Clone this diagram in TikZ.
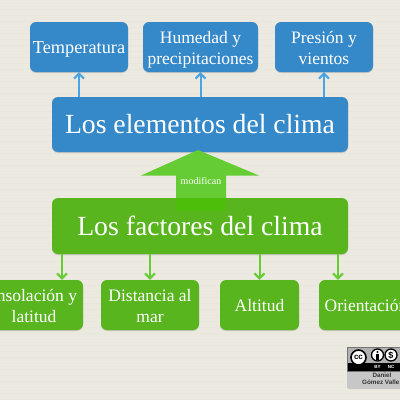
\documentclass[tikz,border=0pt]{standalone}
\usepackage{fontspec}
\setmainfont{Liberation Serif}
\newfontfamily\badgefont{Liberation Sans}
\usetikzlibrary{arrows.meta,shapes.arrows}
\definecolor{paper}{HTML}{ECE9E1}
\definecolor{paperline}{HTML}{E9E6DE}
\definecolor{bluebox}{HTML}{3589C9}
\definecolor{bluearrow}{HTML}{4AA3E2}
\definecolor{greenbox}{HTML}{58B51E}
\definecolor{greenarrow}{HTML}{66CC33}
\definecolor{greenover}{HTML}{4DBE0A}
\definecolor{shadowc}{HTML}{C9C7BE}
\newcommand\firstline{\strut\rule{0pt}{20pt}}
\tikzset{
 rbox/.style={rounded corners=6pt,inner sep=0pt,align=center,text=white,
   font=\fontsize{17.5}{21}\selectfont,
   minimum width=#1,minimum height=50pt,
   preaction={draw=none,fill=shadowc,transform canvas={yshift=-1pt}}},
 bluen/.style={rbox=#1,fill=bluebox},
 greenn/.style={rbox=#1,fill=greenbox},
 bluelink/.style={draw=bluearrow,line width=2pt,-{Straight Barb[length=5pt,width=10pt,line width=2pt]}},
 greenlink/.style={draw=greenarrow,line width=2pt,-{Straight Barb[length=5pt,width=10pt,line width=2pt]}},
}
\begin{document}
\begin{tikzpicture}[x=1pt,y=-1pt]
\useasboundingbox (0,0) rectangle (400,400);
\clip (0,0) rectangle (400,400);
\fill[paper] (0,0) rectangle (400,400);
\foreach \yy in {3,9,...,399} \draw[paperline,line width=.5pt] (0,\yy) -- (400,\yy);
% top row
\node[bluen=98pt,font=\fontsize{18.3}{21}\selectfont] (temp) at (79,47) {\firstline Temperatura};
\node[bluen=115pt] (hum) at (200.5,47) {\firstline Humedad y\\\strut precipitaciones};
\node[bluen=98pt] (pres) at (324,47) {\firstline Presión y\\\strut vientos};
\node[rbox=296pt,fill=bluebox,minimum height=55pt,font=\fontsize{27.7}{30}\selectfont] (elem) at (200,124.5) {Los elementos del clima};
% factores
\node[rbox=296pt,fill=greenbox,minimum height=56pt,font=\fontsize{27.7}{30}\selectfont] (fact) at (200,226) {Los factores del clima};
% big arrow
\coordinate (tip) at (198,150);
\fill[greenarrow] (tip) -- (259,175.5) -- (226,175.5) -- (226,198) -- (176,198) -- (176,175.5) -- (141,175.5) -- cycle;
\fill[greenover] (176,198) rectangle (226,211);
\node[text=white,font=\fontsize{10}{11}\selectfont,inner sep=0pt] (mod) at (201,181.5) {modifican};
% bottom row
\node[greenn=98pt] (ins) at (34,305) {\firstline Insolación y\\\strut latitud};
\node[greenn=98pt] (dis) at (150,305) {\firstline Distancia al\\\strut mar};
\node[greenn=79pt] (alt) at (259.5,305) {\firstline Altitud};
\node[greenn=94pt] (ori) at (366,305) {\firstline Orientación};
% links
\draw[bluelink] (temp.south |- elem.north) -- (temp.south);
\draw[bluelink] (hum.south |- elem.north) -- (hum.south);
\draw[bluelink] (pres.south |- elem.north) -- (pres.south);
\coordinate (ax1) at (62,280);
\coordinate (ax4) at (338,280);
\draw[greenlink] (fact.south -| ax1) -- (ins.north -| ax1);
\draw[greenlink] (fact.south -| dis.north) -- (dis.north);
\draw[greenlink] (fact.south -| alt.north) -- (alt.north);
\draw[greenlink] (fact.south -| ax4) -- (ori.north -| ax4);
% badge
\fill[rounded corners=2pt,fill=black!22] (347,347) rectangle (410,389);
\fill[fill=black!30] (347,347) rectangle (410,363);
\fill[black] (347,363) rectangle (410,371);
\draw[black!55,line width=.5pt] (347,347) rectangle (410,371);
\node[draw=black,line width=1.6pt,fill=white,circle,inner sep=0pt,minimum size=15pt,font=\badgefont\bfseries\fontsize{8}{8}\selectfont] (cc) at (358.5,357.5) {cc};
\node[draw=black,line width=1.3pt,fill=white,circle,inner sep=0pt,minimum size=12pt] (by) at (377.5,355) {};
\fill[black] (by.center) ++(0,-3) circle (1.2pt);
\fill[black] (376,354) rectangle (379,359.5);
\node[draw=black,line width=1.3pt,fill=white,circle,inner sep=0pt,minimum size=12pt,font=\badgefont\bfseries\fontsize{9}{9}\selectfont] (nc) at (391,355) {\$};
\node[text=white,inner sep=0pt,font=\badgefont\bfseries\fontsize{4.5}{4.5}\selectfont] (byt) at (377.5,367) {BY};
\node[text=white,inner sep=0pt,font=\badgefont\bfseries\fontsize{4.5}{4.5}\selectfont] (nct) at (391,367) {NC};
\node[inner sep=0pt,text=black!80,font=\badgefont\bfseries\fontsize{6.3}{7}\selectfont] (dan) at (382,375) {Daniel};
\node[inner sep=0pt,text=black!80,anchor=west,font=\badgefont\bfseries\fontsize{6.3}{7}\selectfont] (gom) at (362,382.5) {Gómez Valle};
\end{tikzpicture}
\end{document}
